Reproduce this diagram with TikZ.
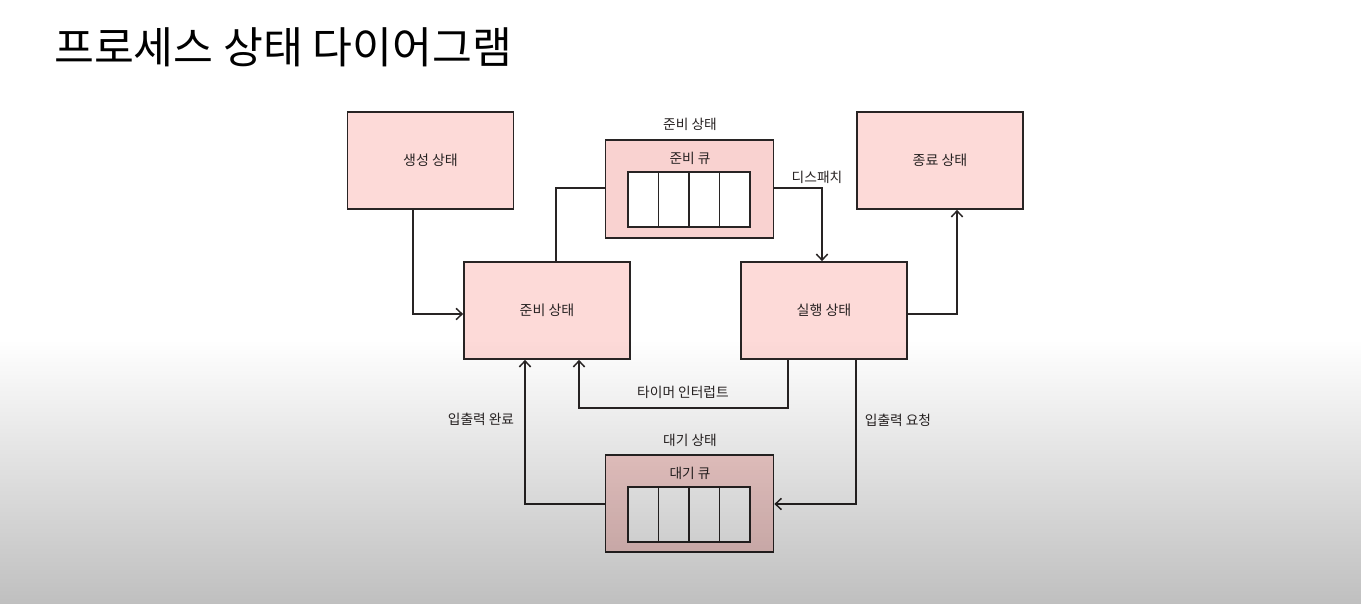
\documentclass[tikz,border=0pt]{standalone}
\usepackage{fontspec}
\setmainfont{Noto Sans CJK KR}
\usetikzlibrary{arrows.meta,fadings}
\definecolor{boxpink}{RGB}{253,218,216}
\definecolor{qpink}{RGB}{249,210,208}
\definecolor{ink}{RGB}{40,36,36}
\definecolor{txt}{RGB}{40,35,35}
\tikzfading[name=darkfade, top color=transparent!100, bottom color=transparent!0]
\tikzset{
  stbox/.style={draw=ink, line width=1.3pt, fill=boxpink, minimum width=124.5pt, minimum height=72.75pt, inner sep=0pt, text=txt, font=\fontsize{10.5}{12}\selectfont},
  qbox/.style={draw=ink, line width=1.3pt, fill=qpink, minimum width=126pt, minimum height=73pt, inner sep=0pt},
  cell/.style={draw=ink, line width=1pt, fill=white, minimum width=22.875pt, minimum height=41.25pt, inner sep=0pt},
  lbl/.style={text=txt, font=\fontsize{10.3}{12}\selectfont, inner sep=1pt},
  conn/.style={draw=ink, line width=1.1pt},
  arr/.style={conn, -{Straight Barb[length=4.5pt,width=8.5pt,line width=1.1pt]}}
}
\begin{document}
\begin{tikzpicture}[x=0.75pt,y=-0.75pt]
\useasboundingbox (0,0) rectangle (1364,604);
\fill[white] (0,0) rectangle (1364,604);

% title
\node[anchor=west, inner sep=0pt, text=black, font=\fontsize{32.5}{38}\selectfont] (title) at (54,47) {프로세스 상태 다이어그램};

% main state boxes
\node[stbox] (gen) at (430.5,160.5) {생성 상태};
\node[stbox] (end) at (940,160.5) {종료 상태};
\node[stbox] (ready) at (547,310.5) {준비 상태};
\node[stbox] (run) at (824,310.5) {실행 상태};

% ready queue container
\node[qbox] (rq) at (689.5,189) {};
\node[lbl] (rqtitle) at (690,124) {준비 상태};
\node[lbl] (rqname) at (690,158) {준비 큐};
\node[cell] (rq1) at (643.25,199.5) {};
\node[cell] (rq2) at (673.75,199.5) {};
\node[cell] (rq3) at (704.25,199.5) {};
\node[cell] (rq4) at (734.75,199.5) {};

% waiting queue container
\node[qbox] (wq) at (689.5,503.5) {};
\node[lbl] (wqtitle) at (690,440) {대기 상태};
\node[lbl] (wqname) at (690,473) {대기 큐};
\node[cell] (wq1) at (643.25,514.5) {};
\node[cell] (wq2) at (673.75,514.5) {};
\node[cell] (wq3) at (704.25,514.5) {};
\node[cell] (wq4) at (734.75,514.5) {};

% bend points
\coordinate (b1) at (413,314);
\coordinate (b2) at (556,188);
\coordinate (b3) at (822,188);
\coordinate (b4) at (957,314);
\coordinate (b5a) at (788,408);
\coordinate (b5b) at (579,408);
\coordinate (b6) at (856,504);
\coordinate (b7) at (525,504);

% connectors
\draw[arr] (b1 |- gen.south) -- (b1) -- (b1 -| ready.west);
\draw[conn] (b2 |- ready.north) -- (b2) -- (b2 -| rq.west);
\draw[arr] (b3 -| rq.east) -- (b3) -- (b3 |- run.north);
\draw[arr] (b4 -| run.east) -- (b4) -- (b4 |- end.south);
\draw[arr] (b5a |- run.south) -- (b5a) -- (b5b) -- (b5b |- ready.south);
\draw[arr] (b6 |- run.south) -- (b6) -- (b6 -| wq.east);
\draw[arr] (b7 -| wq.west) -- (b7) -- (b7 |- ready.south);

% connector labels
\node[lbl] (ldispatch) at (817,177) {디스패치};
\node[lbl] (ltimer) at (683,392) {타이머 인터럽트};
\node[lbl] (lioreq) at (898,420) {입출력 요청};
\node[lbl] (liodone) at (481,419) {입출력 완료};

% bottom shading overlay
\fill[black, fill opacity=0.25, path fading=darkfade] (0,340) rectangle (1364,604);
\end{tikzpicture}
\end{document}
